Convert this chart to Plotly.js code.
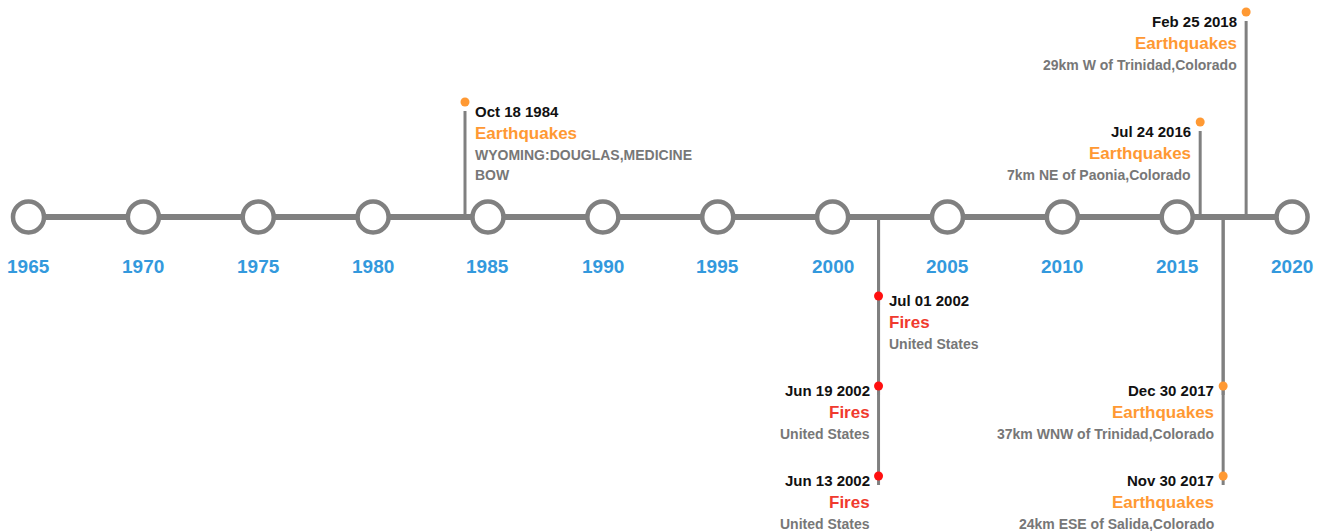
<!DOCTYPE html>
<html>
<head>
<meta charset="utf-8">
<script src="https://cdn.plot.ly/plotly-3.0.1.min.js"></script>
<style>html,body{margin:0;padding:0;background:#fff;}#chart{width:1327px;height:531px;}</style>
</head>
<body>
<div id="chart"></div>
<script>
// ---- data ----
const tickYears = [1965, 1970, 1975, 1980, 1985, 1990, 1995, 2000, 2005, 2010, 2015, 2020];
const eventDates = ['Oct 18 1984', 'Jul 01 2002', 'Jun 19 2002', 'Jun 13 2002', 'Jul 24 2016', 'Dec 30 2017', 'Nov 30 2017', 'Feb 25 2018'];
const eventYears = [1984, 2002, 2002, 2002, 2016, 2017, 2017, 2018];
const eventLevels = [106, -88, -178, -268, 86, -178, -268, 196];
const eventTypes = ['Earthquakes', 'Fires', 'Fires', 'Fires', 'Earthquakes', 'Earthquakes', 'Earthquakes', 'Earthquakes'];
const eventPlaces = ['WYOMING:DOUGLAS,MEDICINE BOW', 'United States', 'United States', 'United States',
  '7km NE of Paonia,Colorado', '37km WNW of Trinidad,Colorado', '24km ESE of Salida,Colorado', '29km W of Trinidad,Colorado'];
const eventSides = ['right', 'right', 'left', 'left', 'left', 'left', 'left', 'left'];

// ---- styles ----
const FONT = 'Liberation Sans, Arial, Helvetica, sans-serif';
const GRAY = '#808080';
const typeText = {Earthquakes: '#FF9933', Fires: '#F03A2E'};
const typeDot = {Earthquakes: '#FF9933', Fires: '#FF1010'};
const DOT_OFFSET = 9;

// wrap long location text by measured width
const cvs = document.createElement('canvas').getContext('2d');
cvs.font = 'bold 14px ' + FONT;
function wrap(str, maxW) {
  const words = str.split(' ');
  const lines = [];
  let cur = '';
  words.forEach(w => {
    const t = cur ? cur + ' ' + w : w;
    if (cur && cvs.measureText(t).width > maxW) { lines.push(cur); cur = w; }
    else cur = t;
  });
  if (cur) lines.push(cur);
  return lines;
}

const traces = [];
// main line
traces.push({x: [tickYears[0], tickYears[tickYears.length - 1]], y: [0, 0], mode: 'lines',
  line: {color: GRAY, width: 6}, hoverinfo: 'skip', showlegend: false});
// stems
const sx = [], sy = [];
eventYears.forEach((x, i) => { sx.push(x, x, null); sy.push(0, eventLevels[i], null); });
traces.push({x: sx, y: sy, mode: 'lines', line: {color: GRAY, width: 3}, hoverinfo: 'skip', showlegend: false});
// year circles
traces.push({x: tickYears, y: tickYears.map(() => 0), mode: 'markers',
  marker: {size: 31, color: '#fff', line: {color: GRAY, width: 4.5}}, hoverinfo: 'skip', showlegend: false});
// event dots
traces.push({x: eventYears, y: eventLevels.map(v => v + DOT_OFFSET), mode: 'markers',
  marker: {size: 9, color: eventTypes.map(t => typeDot[t])}, hoverinfo: 'skip', showlegend: false});

const annotations = [];
tickYears.forEach(yr => {
  annotations.push({x: yr, y: 0, text: String(yr), showarrow: false, yshift: -49,
    xanchor: 'center', yanchor: 'middle', font: {family: FONT, size: 19, weight: 700, color: '#3399DD'}});
});
eventYears.forEach((x, i) => {
  const right = eventSides[i] === 'right';
  const above = eventLevels[i] > 0;
  const yd = eventLevels[i] + DOT_OFFSET;
  const base = above ? 9.5 : 4.5;
  const common = {x: x, y: yd, showarrow: false, xanchor: right ? 'left' : 'right', yanchor: 'middle',
    xshift: right ? 8 : -7};
  annotations.push(Object.assign({}, common, {text: eventDates[i], yshift: -base,
    font: {family: FONT, size: 15, weight: 700, color: '#111'}}));
  annotations.push(Object.assign({}, common, {text: eventTypes[i], yshift: -(base + 22),
    font: {family: FONT, size: 17, weight: 700, color: typeText[eventTypes[i]]}}));
  wrap(eventPlaces[i], 240).forEach((ln, k) => {
    annotations.push(Object.assign({}, common, {text: ln, yshift: -(base + 43 + 20 * k),
      font: {family: FONT, size: 14, weight: 700, color: '#777'}}));
  });
});

const layout = {
  width: 1327, height: 531,
  margin: {l: 0, r: 0, t: 0, b: 0},
  paper_bgcolor: '#fff', plot_bgcolor: '#fff',
  xaxis: {range: [1963.76, 2021.52], visible: false, fixedrange: true},
  yaxis: {range: [-314, 217], visible: false, fixedrange: true},
  annotations: annotations,
  showlegend: false,
  hovermode: false
};
Plotly.newPlot('chart', traces, layout, {displayModeBar: false, staticPlot: true});
</script>
</body>
</html>
